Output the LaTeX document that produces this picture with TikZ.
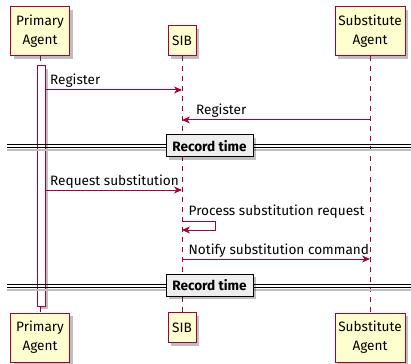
\documentclass[tikz,border=0pt]{standalone}
\usepackage{fontspec}
\setmainfont{Fira Sans}
\usetikzlibrary{shadows,arrows.meta}
\definecolor{pbord}{HTML}{A80036}
\definecolor{pfill}{HTML}{FEFECE}
\definecolor{dfill}{HTML}{EEEEEE}
\begin{document}
\begin{tikzpicture}[x=1pt,y=-1pt,
  shad/.style={drop shadow={shadow xshift=3pt,shadow yshift=-3pt,fill=black,opacity=0.25}},
  actor/.style={draw=pbord,fill=pfill,line width=1pt,align=center,inner sep=0pt,
    font=\fontsize{13.6}{19}\selectfont,shad},
  actbar/.style={draw=pbord,fill=white,line width=1pt,minimum width=8pt,inner sep=0pt,shad},
  lifeline/.style={draw=pbord,line width=1pt,dash pattern=on 5pt off 5pt},
  msg/.style={draw=pbord,line width=1pt,-{Stealth[length=8pt,width=7pt,inset=2.5pt]}},
  mlabel/.style={anchor=base west,inner sep=0pt,font=\fontsize{13.6}{15}\selectfont},
  divbox/.style={draw=black,fill=dfill,line width=1pt,inner sep=0pt,minimum width=87pt,
    minimum height=22pt,font=\bfseries\fontsize{13.6}{15}\selectfont,shad},
  divline/.style={draw=black,line width=1pt},
  divshadow/.style={draw=black!25,line width=2pt}
]
\useasboundingbox (0,0) rectangle (411,363);
% actors
\node[actor,minimum width=59pt,minimum height=49pt] (pa) at (40,31.5) {Primary\\Agent};
\node[actor,minimum width=28pt,minimum height=30pt] (sib) at (182,41) {SIB};
\node[actor,minimum width=70pt,minimum height=49pt] (sa) at (370,31.5) {Substitute\\Agent};
\node[actor,minimum width=59pt,minimum height=49pt] (pab) at (40,337.5) {Primary\\Agent};
\node[actor,minimum width=28pt,minimum height=30pt] (sibb) at (182,327.5) {SIB};
\node[actor,minimum width=70pt,minimum height=49pt] (sab) at (370,337.5) {Substitute\\Agent};
% lifelines
\draw[lifeline] (pa.south) -- (pab.north);
\draw[lifeline] (sib.south) -- (sibb.north);
\draw[lifeline] (sa.south) -- (sab.north);
% activation bar
\node[actbar,minimum height=240pt] (act) at (41,186) {};
% dividers
\coordinate (d1l) at (7,146.5);
\coordinate (d1r) at (411,146.5);
\coordinate (d2l) at (7,286);
\coordinate (d2r) at (411,286);
\draw[divshadow] ([yshift=-4pt]d1l) -- ([yshift=-4pt]d1r);
\draw[divline] ([yshift=1.5pt]d1l) -- ([yshift=1.5pt]d1r);
\draw[divline] ([yshift=-1.5pt]d1l) -- ([yshift=-1.5pt]d1r);
\node[divbox] (rt1) at (209.5,146) {Record time};
\draw[divshadow] ([yshift=-4pt]d2l) -- ([yshift=-4pt]d2r);
\draw[divline] ([yshift=1.5pt]d2l) -- ([yshift=1.5pt]d2r);
\draw[divline] ([yshift=-1.5pt]d2l) -- ([yshift=-1.5pt]d2r);
\node[divbox] (rt2) at (209.5,285) {Record time};
% messages
\draw[msg] (act.east |- 0,90) -- (sib |- 0,90);
\node[mlabel] (l1) at (50,85) {Register};
\draw[msg] (sa |- 0,120) -- (sib |- 0,120);
\node[mlabel] (l2) at (196,115) {Register};
\draw[msg] (act.east |- 0,190) -- (sib |- 0,190);
\node[mlabel] (l3) at (50,185.5) {Request substitution};
\coordinate (s1) at (215,221);
\coordinate (s2) at (215,230);
\draw[msg] (sib |- s1) -- (s1) -- (s2) -- (sib |- s2);
\node[mlabel] (l4) at (188.5,215) {Process substitution request};
\draw[msg] (sib |- 0,259) -- (sa |- 0,259);
\node[mlabel] (l5) at (188.5,254) {Notify substitution command};
\end{tikzpicture}
\end{document}
